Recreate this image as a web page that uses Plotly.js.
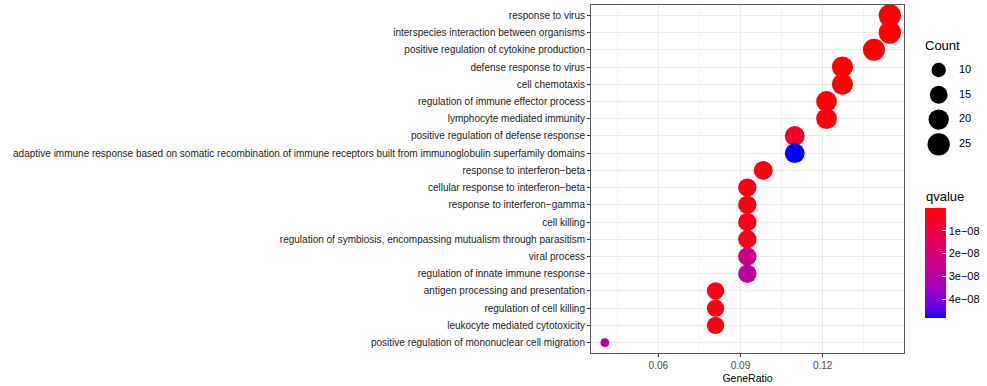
<!DOCTYPE html>
<html>
<head>
<meta charset="utf-8">
<script src="https://cdn.plot.ly/plotly-3.0.1.min.js"></script>
<style>html,body{margin:0;padding:0;background:#fff;}#chart{width:987px;height:386px;}</style>
</head>
<body>
<div id="chart"></div>
<script>
// ---- data (top to bottom as in the chart) ----
const categories = [
  "response to virus",
  "interspecies interaction between organisms",
  "positive regulation of cytokine production",
  "defense response to virus",
  "cell chemotaxis",
  "regulation of immune effector process",
  "lymphocyte mediated immunity",
  "positive regulation of defense response",
  "adaptive immune response based on somatic recombination of immune receptors built from immunoglobulin superfamily domains",
  "response to interferon\u2212beta",
  "cellular response to interferon\u2212beta",
  "response to interferon\u2212gamma",
  "cell killing",
  "regulation of symbiosis, encompassing mutualism through parasitism",
  "viral process",
  "regulation of innate immune response",
  "antigen processing and presentation",
  "regulation of cell killing",
  "leukocyte mediated cytotoxicity",
  "positive regulation of mononuclear cell migration"
];
const geneRatio = [0.1445, 0.1445, 0.1387, 0.1272, 0.1272, 0.1214, 0.1214, 0.1098, 0.1098, 0.0983,
                   0.0925, 0.0925, 0.0925, 0.0925, 0.0925, 0.0925, 0.0809, 0.0809, 0.0809, 0.0405];
const counts = [25, 25, 24, 22, 22, 21, 21, 19, 19, 17, 16, 16, 16, 16, 16, 16, 14, 14, 14, 7];
const qvalues = [2.0e-11, 1.5e-10, 5.2e-10, 4.5e-11, 3.0e-10, 7.8e-10, 9.6e-10, 4.5e-9, 4.83e-8, 1.2e-9,
                 1.9e-9, 2.1e-9, 2.3e-9, 2.6e-9, 2.3e-8, 2.9e-8, 1.6e-9, 1.8e-9, 2.0e-9, 2.9e-8];
const sizeLegendValues = [10, 15, 20, 25];
const xTickVals = [0.06, 0.09, 0.12];
const xTickText = ["0.06", "0.09", "0.12"];
const qTickVals = [1e-8, 2e-8, 3e-8, 4e-8];
const qTickText = ["1e\u221208", "2e\u221208", "3e\u221208", "4e\u221208"];

// ---- style helpers ----
const cMin = Math.min(...counts), cMax = Math.max(...counts);
function sizeOf(c) { return 9 + 13.3 * Math.sqrt(Math.max(0, (c - cMin) / (cMax - cMin))); }

// Lab interpolation red -> blue (like ggplot's gradient)
function labToHex(L, a, b) {
  const fy = (L + 16) / 116, fx = fy + a / 500, fz = fy - b / 200;
  const f = t => (t > 6/29 ? t*t*t : 3*(6/29)*(6/29)*(t - 4/29));
  const X = 0.95047 * f(fx), Y = f(fy), Z = 1.08883 * f(fz);
  let r = 3.2406*X - 1.5372*Y - 0.4986*Z;
  let g = -0.9689*X + 1.8758*Y + 0.0415*Z;
  let bb = 0.0557*X - 0.2040*Y + 1.0570*Z;
  const gam = v => { v = Math.min(1, Math.max(0, v)); return v <= 0.0031308 ? 12.92*v : 1.055*Math.pow(v, 1/2.4) - 0.055; };
  const h = v => Math.round(gam(v)*255).toString(16).padStart(2, '0');
  return '#' + h(r) + h(g) + h(bb);
}
const red = [53.24, 80.09, 67.20], blue = [32.30, 79.19, -107.86];
const colorscale = [];
for (let i = 0; i <= 20; i++) {
  const s = i / 20;          // s=0 -> blue (largest q), s=1 -> red (smallest q)
  const t = 1 - s;
  colorscale.push([s, labToHex(red[0] + (blue[0]-red[0])*t, red[1] + (blue[1]-red[1])*t, red[2] + (blue[2]-red[2])*t)]);
}

const qMax = Math.max(...qvalues), qMin = Math.min(...qvalues);
const FONT = "Liberation Sans, Arial, Helvetica, sans-serif";

const mainTrace = {
  type: 'scatter', mode: 'markers',
  x: geneRatio, y: categories,
  xaxis: 'x', yaxis: 'y',
  showlegend: false, hoverinfo: 'x+y',
  marker: {
    size: counts.map(sizeOf), sizemode: 'diameter', opacity: 1,
    color: qvalues.map(q => -q), cmin: -qMax, cmax: -qMin,
    colorscale: colorscale, showscale: true,
    line: {width: 0},
    colorbar: {
      x: (925 - 591) / 396, xanchor: 'left', xpad: 0,
      y: (353 - 263) / 348, yanchor: 'middle', ypad: 0,
      len: 110, lenmode: 'pixels', thickness: 21, thicknessmode: 'pixels',
      outlinewidth: 0,
      tickmode: 'array', tickvals: qTickVals.map(v => -v), ticktext: qTickText,
      ticks: 'inside', ticklen: 4, tickwidth: 1, tickcolor: '#ffffff',
      tickprefix: '\u00a0\u00a0',
      tickfont: {family: FONT, size: 11, color: '#000000'},
      title: {text: ''}
    }
  }
};

const legendDots = {
  type: 'scatter', mode: 'markers',
  x: sizeLegendValues.map(() => 34.7), y: sizeLegendValues,
  xaxis: 'x2', yaxis: 'y2', showlegend: false, hoverinfo: 'skip', opacity: 1,
  marker: {size: sizeLegendValues.map(sizeOf), sizemode: 'diameter', color: 'rgb(0,0,0)', opacity: 1, line: {width: 0}}
};
const legendText = {
  type: 'scatter', mode: 'text',
  x: sizeLegendValues.map(() => 55), y: sizeLegendValues,
  text: sizeLegendValues.map(String), textposition: 'middle right',
  textfont: {family: FONT, size: 11, color: '#000000'},
  xaxis: 'x2', yaxis: 'y2', showlegend: false, hoverinfo: 'skip'
};

const layout = {
  width: 987, height: 386,
  margin: {l: 591, r: 0, t: 5, b: 33, pad: 0},
  paper_bgcolor: '#ffffff', plot_bgcolor: '#ffffff',
  font: {family: FONT, size: 10, color: '#4D4D4D'},
  xaxis: {
    domain: [0, 313/396], range: [0.03544, 0.14967], autorange: false,
    tickmode: 'array', tickvals: xTickVals, ticktext: xTickText,
    ticks: 'outside', ticklen: 3, tickwidth: 1, tickcolor: '#333333',
    tickfont: {family: FONT, size: 10, color: '#4D4D4D'},
    showgrid: true, gridcolor: '#EBEBEB', gridwidth: 1,
    minor: {tickmode: 'array', tickvals: [0.045, 0.075, 0.105, 0.135], showgrid: true, gridcolor: '#EBEBEB', gridwidth: 0.6, ticks: ''},
    zeroline: false, showline: true, mirror: true, linecolor: '#5A5A5A', linewidth: 1,
    automargin: false,
    title: {text: 'GeneRatio', font: {family: FONT, size: 10.5, color: '#000000'}, standoff: 4}
  },
  yaxis: {
    domain: [0, 1], type: 'category',
    categoryorder: 'array', categoryarray: categories.slice().reverse(),
    range: [-0.6, 19.6], autorange: false,
    ticks: 'outside', ticklen: 3, tickwidth: 1, tickcolor: '#333333',
    tickfont: {family: FONT, size: 10, color: '#1a1a1a'},
    showgrid: true, gridcolor: '#EBEBEB', gridwidth: 1,
    zeroline: false, showline: true, mirror: true, linecolor: '#5A5A5A', linewidth: 1,
    automargin: false
  },
  xaxis2: {domain: [313/396, 1], range: [0, 83], autorange: false, visible: false, fixedrange: true, anchor: 'y2'},
  yaxis2: {domain: [0, 1], range: [67.14, -3.124], autorange: false, visible: false, anchor: 'x2', fixedrange: true},
  annotations: [
    {text: 'Count', xref: 'paper', yref: 'paper', x: (923 - 591)/396, y: (353 - 45.5)/348,
     xanchor: 'left', yanchor: 'middle', showarrow: false, font: {family: FONT, size: 13, color: '#000000'}},
    {text: 'qvalue', xref: 'paper', yref: 'paper', x: (924 - 591)/396, y: (353 - 196.5)/348,
     xanchor: 'left', yanchor: 'middle', showarrow: false, font: {family: FONT, size: 13, color: '#000000'}}
  ],
  showlegend: false
};

Plotly.newPlot('chart', [mainTrace, legendDots, legendText], layout, {displayModeBar: false, staticPlot: true});
</script>
</body>
</html>
